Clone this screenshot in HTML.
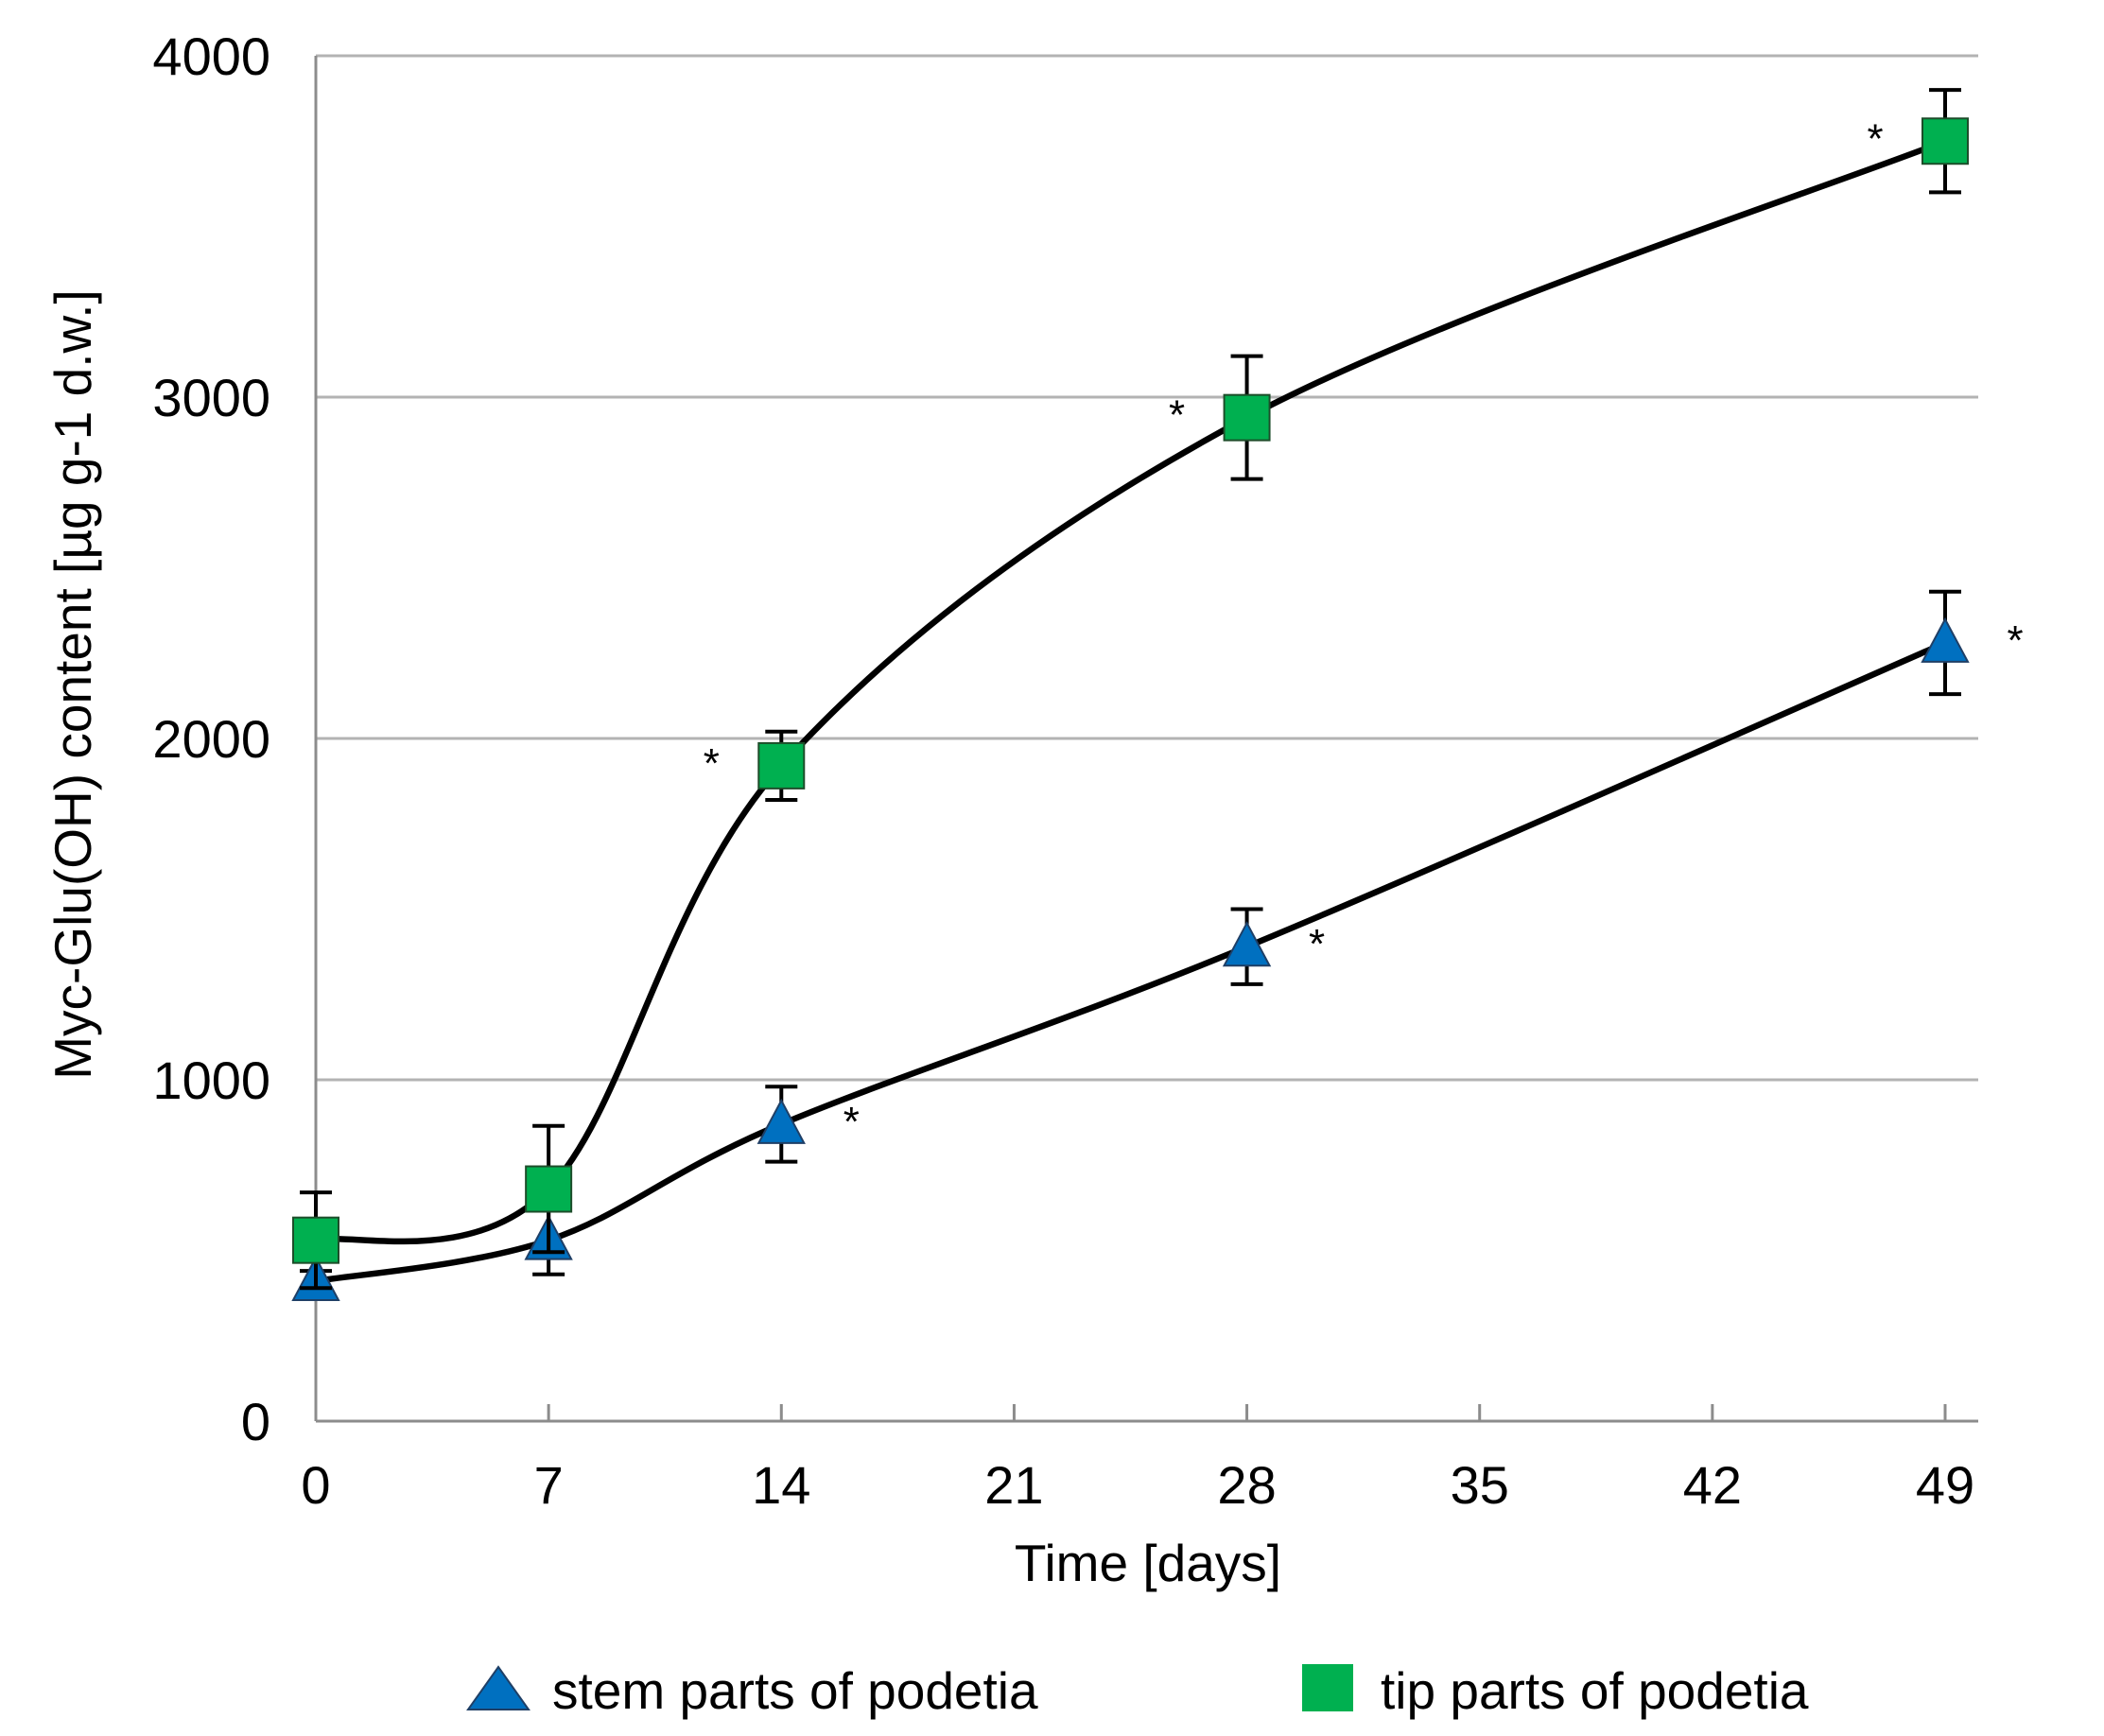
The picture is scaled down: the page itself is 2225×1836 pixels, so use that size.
<!DOCTYPE html>
<html><head><meta charset="utf-8"><style>
html,body{margin:0;padding:0;background:#fff;}
svg{display:block;font-family:"Liberation Sans",Arial,sans-serif;}
</style></head><body>
<svg id="chart" width="2225" height="1836" viewBox="0 0 2225 1836" xmlns="http://www.w3.org/2000/svg">
<g id="grid"></g>
<g id="axes"></g>
<g id="lines"></g>
<g id="marks"></g>
<text x="1214" y="1672" font-size="55" text-anchor="middle" fill="#000">Time [days]</text>
<text transform="translate(96,724) rotate(-90)" font-size="55" text-anchor="middle" fill="#000">Myc-Glu(OH) content [µg g-1 d.w.]</text>
<g>
<g>
<polygon points="527,1763 559,1808 495,1808" fill="#0070c0" stroke="#1f3f66" stroke-width="2"/>
<text x="584" y="1807" font-size="55" fill="#000">stem parts of podetia</text></g>
<g>
<rect x="1377" y="1760" width="54" height="50" fill="#00b050"/>
<text x="1460" y="1807" font-size="55" fill="#000">tip parts of podetia</text></g>
</g>
</svg>
<script>
const days = [0, 7, 14, 28, 49];
const tipValues = [530, 680, 1920, 2940, 3750];
const tipErrors = [140, 185, 100, 180, 150];
const stemValues = [410, 530, 870, 1390, 2280];
const stemErrors = [30, 100, 110, 110, 150];
const xTicks = [0, 7, 14, 21, 28, 35, 42, 49];
const yTicks = [0, 1000, 2000, 3000, 4000];

const NS = 'http://www.w3.org/2000/svg';
const X0 = 334, X1 = 2057, Y0 = 1503, Y1 = 59;
const xs = d => X0 + (d - 0) / 49 * (X1 - X0);
const ys = v => Y0 - v / 4000 * (Y0 - Y1);
function mk(tag, attrs, parent) {
  const e = document.createElementNS(NS, tag);
  for (const k in attrs) e.setAttribute(k, attrs[k]);
  parent.appendChild(e); return e;
}
const grid = document.getElementById('grid');
const axes = document.getElementById('axes');
const lines = document.getElementById('lines');
const marks = document.getElementById('marks');

yTicks.forEach(t => {
  if (t > 0) {
    const g = mk('line', {x1: X0, x2: 2092, y1: ys(t), y2: ys(t), stroke: '#b3b3b3', 'stroke-width': 3}, grid);
    
    
  }
  const tx = mk('text', {x: 286, y: ys(t) + 20, 'font-size': 56, 'text-anchor': 'end', fill: '#000'}, axes);
  tx.textContent = t;
  
  
});
const ya = mk('line', {x1: X0, x2: X0, y1: Y1, y2: Y0, stroke: '#8c8c8c', 'stroke-width': 3}, axes);


const xa = mk('line', {x1: X0, x2: 2092, y1: Y0, y2: Y0, stroke: '#8c8c8c', 'stroke-width': 3}, axes);


xTicks.forEach(t => {
  const tk = mk('line', {x1: xs(t), x2: xs(t), y1: Y0 - 18, y2: Y0, stroke: '#8c8c8c', 'stroke-width': 3}, axes);
  
  
  const tx = mk('text', {x: xs(t), y: 1590, 'font-size': 56, 'text-anchor': 'middle', fill: '#000'}, axes);
  tx.textContent = t;
  
  
});

function smoothPath(pts) {
  const k = 1 / 6;
  let d = `M${pts[0][0]},${pts[0][1]}`;
  for (let i = 0; i < pts.length - 1; i++) {
    const p0 = pts[i - 1] || pts[i], p1 = pts[i], p2 = pts[i + 1], p3 = pts[i + 2] || p2;
    const c1 = [p1[0] + (p2[0] - p0[0]) * k, p1[1] + (p2[1] - p0[1]) * k];
    const c2 = [p2[0] - (p3[0] - p1[0]) * k, p2[1] - (p3[1] - p1[1]) * k];
    d += ` C${c1[0]},${c1[1]} ${c2[0]},${c2[1]} ${p2[0]},${p2[1]}`;
  }
  return d;
}
function series(vals, errs, kind, starDx) {
  const pts = days.map((d, i) => [xs(d), ys(vals[i])]);
  const p = mk('path', {d: smoothPath(pts), fill: 'none', stroke: '#000', 'stroke-width': 6.5}, lines);
  
  
  days.forEach((d, i) => {
    const x = xs(d), yt = ys(vals[i] + errs[i]), yb = ys(vals[i] - errs[i]);
    const eb = mk('path', {d: `M${x},${yt}V${yb}M${x - 17},${yt}H${x + 17}M${x - 17},${yb}H${x + 17}`, stroke: '#000', 'stroke-width': 4, fill: 'none'}, marks);
    
    
  });
  days.forEach((d, i) => {
    const x = xs(d), y = ys(vals[i]);
    let m;
    if (kind === 'tip') {
      m = mk('rect', {x: x - 24, y: y - 24, width: 48, height: 48, fill: '#00b050', stroke: '#1d4d2a', 'stroke-width': 2}, marks);
    } else {
      m = mk('polygon', {points: `${x},${y - 25} ${x + 24},${y + 20} ${x - 24},${y + 20}`, fill: '#0070c0', stroke: '#1f3f66', 'stroke-width': 2}, marks);
    }
    
    
    if (i >= 2) {
      const s = mk('text', {x: x + starDx, y: y + 12, 'font-size': 44, 'text-anchor': 'middle', fill: '#000'}, marks);
      s.textContent = '*';
      
      
    }
  });
}
series(stemValues, stemErrors, 'stem', 74);
series(tipValues, tipErrors, 'tip', -74);
</script>
</body></html>
